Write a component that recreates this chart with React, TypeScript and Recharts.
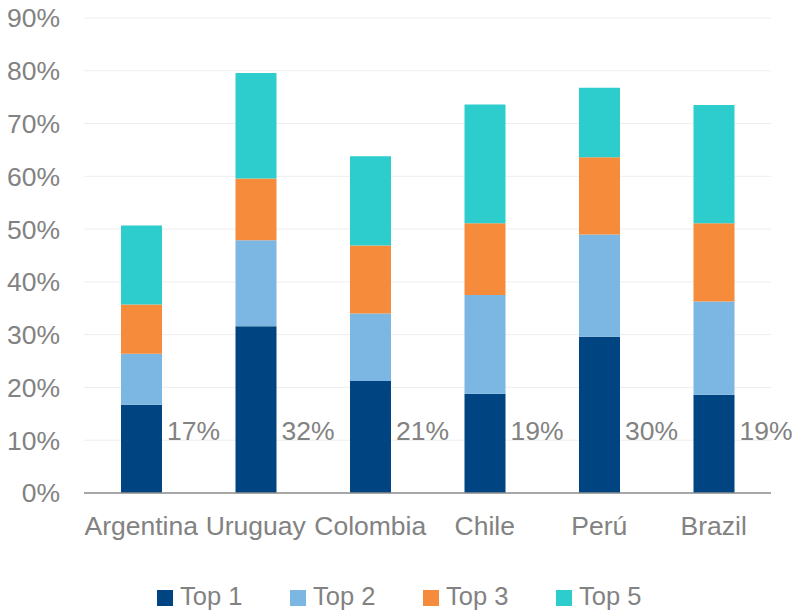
import React from 'react';
import { BarChart, Bar, XAxis, YAxis, CartesianGrid, Legend, LabelList } from 'recharts';

const countries = ['Argentina', 'Uruguay', 'Colombia', 'Chile', 'Perú', 'Brazil'];
const top1 = [16.7, 31.6, 21.2, 18.8, 29.6, 18.6];
const top2 = [9.7, 16.3, 12.8, 18.7, 19.4, 17.7];
const top3 = [9.3, 11.7, 12.9, 13.6, 14.6, 14.8];
const top5 = [15.0, 20.0, 16.9, 22.5, 13.2, 22.4];
const yTicks = [0, 10, 20, 30, 40, 50, 60, 70, 80, 90];

const seriesKeys = ['top1', 'top2', 'top3', 'top5'];
const seriesNames = ['Top 1', 'Top 2', 'Top 3', 'Top 5'];
const seriesColors = ['#004481', '#7cb6e3', '#f68b3b', '#2ecdcd'];

const data = countries.map((country, i) => ({
  country,
  top1: top1[i],
  top2: top2[i],
  top3: top3[i],
  top5: top5[i],
}));

const FONT = '"Liberation Sans", Arial, sans-serif';
const TEXT = '#828282';
const FONT_SIZE = 26.5;
const LEGEND_FONT_SIZE = 25.5;

// Share label placed beside the Top 1 segment, at a fixed height above the baseline
const ShareLabel = (props: any) => {
  const { x, y, width, height, value } = props;
  return (
    <text
      x={x + width / 2 + 52}
      y={y + height - 53}
      textAnchor="middle"
      fill={TEXT}
      fontSize={FONT_SIZE}
      fontFamily={FONT}
    >
      {`${Math.round(value)}%`}
    </text>
  );
};

// Legend row: evenly pitched entries, each a colour swatch followed by its name
const LegendRow = () => (
  <div
    style={{
      display: 'flex',
      justifyContent: 'flex-start',
      alignItems: 'center',
      height: 28,
      fontFamily: FONT,
      fontSize: LEGEND_FONT_SIZE,
      color: TEXT,
      lineHeight: '28px',
      paddingLeft: 157,
    }}
  >
    {seriesNames.map((name, i) => (
      <div key={name} style={{ display: 'flex', alignItems: 'center', height: 28, width: 133, flex: 'none' }}>
        <span
          style={{
            width: 16,
            height: 16,
            background: seriesColors[i],
            marginRight: 7,
            marginTop: 4,
            display: 'inline-block',
            flex: 'none',
          }}
        />
        <span style={{ whiteSpace: 'nowrap' }}>{name}</span>
      </div>
    ))}
  </div>
);

export default function App() {
  return (
    <div style={{ position: 'absolute', left: 0, top: 0, background: '#fff' }}>
      <BarChart
        width={794}
        height={610}
        data={data}
        margin={{ top: 18, right: 23, bottom: 0, left: 0 }}
        barSize={41}
      >
        <CartesianGrid vertical={false} stroke="#eeeeee" strokeWidth={1} />
        <XAxis
          dataKey="country"
          axisLine={{ stroke: '#8c8c8c', strokeWidth: 1.5 }}
          tickLine={false}
          tickSize={0}
          tickMargin={23}
          height={89}
          interval={0}
          tick={{ fill: TEXT, fontSize: FONT_SIZE, fontFamily: FONT }}
        />
        <YAxis
          domain={[0, 90]}
          ticks={yTicks}
          tickFormatter={(v: number) => `${v}%`}
          axisLine={false}
          tickLine={false}
          tickSize={0}
          tickMargin={24}
          width={84}
          tick={{ fill: TEXT, fontSize: FONT_SIZE, fontFamily: FONT }}
        />
        <Legend verticalAlign="bottom" height={28} content={<LegendRow />} />
        {seriesKeys.map((key, i) => (
          <Bar
            key={key}
            dataKey={key}
            name={seriesNames[i]}
            stackId="share"
            fill={seriesColors[i]}
            isAnimationActive={false}
          >
            {key === 'top1' ? <LabelList dataKey="top1" content={<ShareLabel />} /> : null}
          </Bar>
        ))}
      </BarChart>
    </div>
  );
}
